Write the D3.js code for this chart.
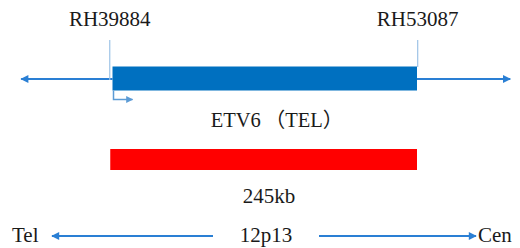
<!DOCTYPE html>
<html><head><meta charset="utf-8">
<script src="https://cdn.jsdelivr.net/npm/d3@7/dist/d3.min.js"></script>
<style>html,body{margin:0;padding:0;background:#fff;}svg{display:block;}</style>
</head><body>
<script>
// Data (genomic coordinates in kb relative to ETV6 start)
const markerNames = ["RH39884", "RH53087"];
const markerPos = [-1, 245];
const geneNameParts = ["ETV6", "（TEL）"];
const geneSpan = [0, 245];
const regionSpan = [-1, 245];
const regionLabel = "245kb";
const chromExtent = [-73.5, 320];
const bandLabel = "12p13";
const endLabels = ["Tel", "Cen"];

const W = 520, H = 248;
const svg = d3.select("body").append("svg").attr("width", W).attr("height", H);
const x = d3.scaleLinear().domain([0, 245]).range([112.5, 417]);

const defs = svg.append("defs");
function marker(id, color, w, h) {
  defs.append("marker").attr("id", id).attr("viewBox", "0 0 10 10")
    .attr("refX", 9).attr("refY", 5).attr("markerUnits", "userSpaceOnUse")
    .attr("markerWidth", w).attr("markerHeight", h).attr("orient", "auto")
    .append("path").attr("d", "M0,0 L10,5 L0,10 Z").attr("fill", color);
}
marker("ah", "#2a7fd4", 10, 8);
marker("ahs", "#5b9bd5", 8, 7);

const serif = "'Liberation Serif','Times New Roman','Noto Sans CJK SC',serif";
const txtColor = "#1a1a1a";
const yMid = 79;

// chromosome arrows around gene
svg.append("line").attr("x1", x(geneSpan[0])).attr("x2", x(chromExtent[0])).attr("y1", yMid).attr("y2", yMid)
  .attr("stroke", "#2a7fd4").attr("stroke-width", 2).attr("marker-end", "url(#ah)");
svg.append("line").attr("x1", x(geneSpan[1])).attr("x2", x(chromExtent[1])).attr("y1", yMid).attr("y2", yMid)
  .attr("stroke", "#2a7fd4").attr("stroke-width", 2).attr("marker-end", "url(#ah)");

// marker lines and labels
markerNames.forEach((n, i) => {
  const mx = x(markerPos[i]) + (i === 0 ? -1.5 : 0.7);
  svg.append("line").attr("x1", mx).attr("x2", mx).attr("y1", 40).attr("y2", i === 0 ? yMid + 1 : 67)
    .attr("stroke", "#9dc3e6").attr("stroke-width", 1.2);
  svg.append("text").attr("x", mx).attr("y", 26).attr("text-anchor", "middle")
    .attr("font-family", serif).attr("font-size", 21).attr("fill", txtColor).text(n);
});

// gene bar
svg.append("rect").attr("x", x(geneSpan[0])).attr("y", 66.5)
  .attr("width", x(geneSpan[1]) - x(geneSpan[0])).attr("height", 24).attr("fill", "#0070c0");

// transcription start arrow
svg.append("path")
  .attr("d", `M${x(geneSpan[0]) + 1},90.5 V99.5 H${x(geneSpan[0]) + 20}`)
  .attr("fill", "none").attr("stroke", "#5b9bd5").attr("stroke-width", 1.5).attr("marker-end", "url(#ahs)");

// gene label
const gl = svg.append("text").attr("x", 277).attr("y", 127).attr("text-anchor", "middle")
  .attr("font-family", serif).attr("font-size", 20.5).attr("fill", txtColor);
gl.append("tspan").text(geneNameParts[0]);
gl.append("tspan").attr("dx", 4).text(geneNameParts[1]);

// region bar
svg.append("rect").attr("x", x(regionSpan[0]) - 1).attr("y", 149)
  .attr("width", x(regionSpan[1]) - x(regionSpan[0]) + 1).attr("height", 21).attr("fill", "#ff0000");
svg.append("text").attr("x", 269).attr("y", 203).attr("text-anchor", "middle")
  .attr("font-family", serif).attr("font-size", 21).attr("fill", txtColor).text(regionLabel);

// chromosome band axis
const yB = 236;
svg.append("text").attr("x", 266).attr("y", 242).attr("text-anchor", "middle")
  .attr("font-family", serif).attr("font-size", 21).attr("fill", txtColor).text(bandLabel);
svg.append("line").attr("x1", 213).attr("x2", 52).attr("y1", yB).attr("y2", yB)
  .attr("stroke", "#2a7fd4").attr("stroke-width", 2).attr("marker-end", "url(#ah)");
svg.append("line").attr("x1", 319).attr("x2", 476).attr("y1", yB).attr("y2", yB)
  .attr("stroke", "#2a7fd4").attr("stroke-width", 2).attr("marker-end", "url(#ah)");
svg.append("text").attr("x", 12).attr("y", 242).attr("font-family", serif).attr("font-size", 21)
  .attr("fill", txtColor).text(endLabels[0]);
svg.append("text").attr("x", 478).attr("y", 242).attr("font-family", serif).attr("font-size", 21)
  .attr("fill", txtColor).text(endLabels[1]);
</script>
</body></html>
